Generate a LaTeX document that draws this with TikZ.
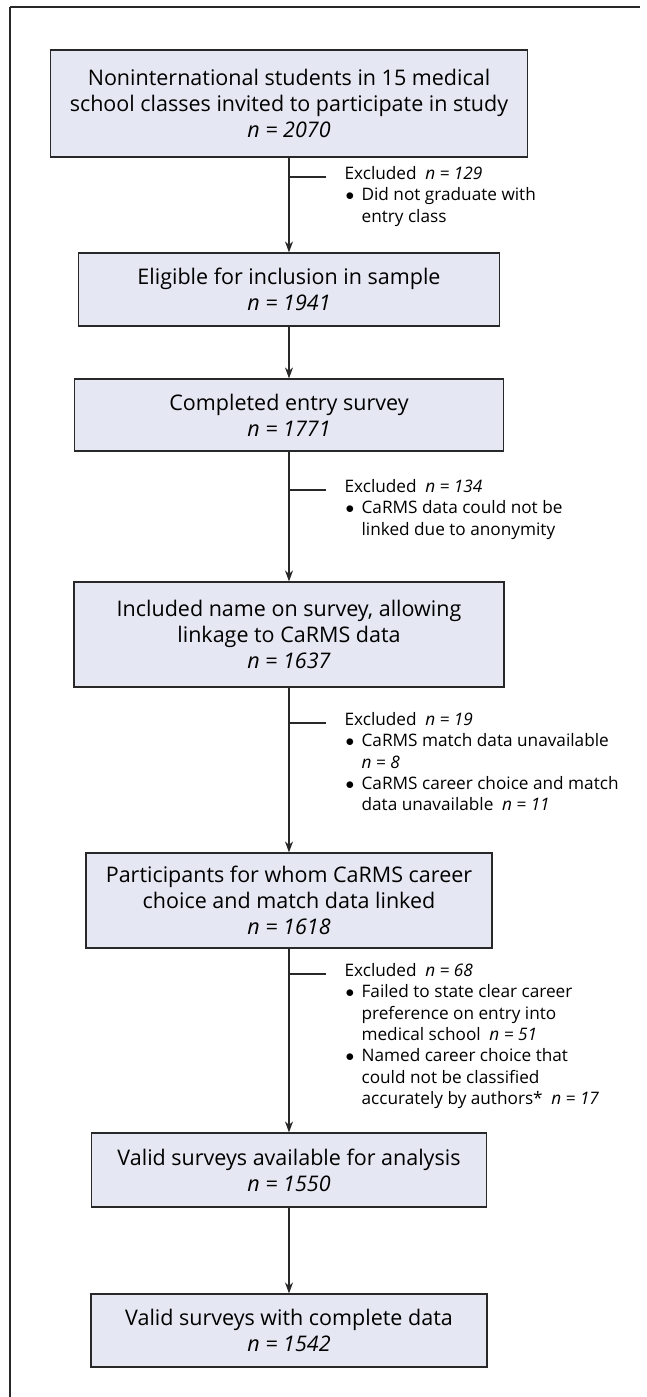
\documentclass[tikz,border=0pt]{standalone}
\usepackage{fontspec}
\setmainfont{Open Sans}
\usetikzlibrary{arrows.meta}
\definecolor{boxfill}{RGB}{229,232,242}
\definecolor{edge}{RGB}{40,40,40}
\newcommand{\bul}{\makebox[17pt][l]{\hspace{1pt}$\bullet$}}
\newcommand{\ind}{\hspace*{17pt}}

\begin{document}
\begin{tikzpicture}[x=1pt, y=-1pt, line width=1.2pt, draw=edge,
  stage/.style={draw=edge, fill=boxfill, align=center, inner sep=0pt, font=\fontsize{21.5}{26}\selectfont},
  excl/.style={anchor=north west, inner sep=0pt, align=left, font=\fontsize{17.2}{21.3}\selectfont},
  arr/.style={-{Stealth[length=11pt,width=8pt]}}]
\useasboundingbox (0,0) rectangle (647,1397);
% frame
\draw (10,7) -- (640,7);
\draw (10,7) -- (10,1397);
% boxes
\node[stage, minimum width=477pt, minimum height=107pt] (b1) at (289,103.5) {Noninternational students in 15 medical\\school classes invited to participate in study\\\textit{n = 2070}};
\node[stage, minimum width=421pt, minimum height=73pt] (b2) at (289,289.5) {Eligible for inclusion in sample\\\textit{n = 1941}};
\node[stage, minimum width=429pt, minimum height=72pt] (b3) at (289,415) {Completed entry survey\\\textit{n = 1771}};
\node[stage, minimum width=430pt, minimum height=105pt] (b4) at (289,634.5) {Included name on survey, allowing\\linkage to CaRMS data\\\textit{n = 1637}};
\node[stage, minimum width=406pt, minimum height=95pt] (b5) at (289,900.5) {Participants for whom CaRMS career\\choice and match data linked\\\textit{n = 1618}};
\node[stage, minimum width=395pt, minimum height=74pt] (b6) at (289,1170) {Valid surveys available for analysis\\\textit{n = 1550}};
\node[stage, minimum width=396pt, minimum height=73pt] (b7) at (289,1330.5) {Valid surveys with complete data\\\textit{n = 1542}};
% arrows
\draw[arr] (b1) -- (b2);
\draw[arr] (b2) -- (b3);
\draw[arr] (b3) -- (b4);
\draw[arr] (b4) -- (b5);
\draw[arr] (b5) -- (b6);
\draw[arr] (b6) -- (b7);
% exclusions
\foreach \y [count=\i] in {177,490,723,974}{
  \coordinate (j\i) at (289,\y);
  \coordinate (k\i) at (326,\y);
  \draw (j\i) -- (k\i);
}
\node[excl] (e1) at (344,166) {Excluded\enspace\textit{n = 129}\\\bul Did not graduate with\\\ind entry class};
\node[excl] (e2) at (344,479) {Excluded\enspace\textit{n = 134}\\\bul CaRMS data could not be\\\ind linked due to anonymity};
\node[excl] (e3) at (344,712) {Excluded\enspace\textit{n = 19}\\\bul CaRMS match data unavailable\\\ind\textit{n = 8}\\\bul CaRMS career choice and match\\\ind data unavailable\enspace\textit{n = 11}};
\node[excl] (e4) at (344,963) {Excluded\enspace\textit{n = 68}\\\bul Failed to state clear career\\\ind preference on entry into\\\ind medical school\enspace\textit{n = 51}\\\bul Named career choice that\\\ind could not be classified\\\ind accurately by authors*\enspace\textit{n = 17}};
\end{tikzpicture}
\end{document}
